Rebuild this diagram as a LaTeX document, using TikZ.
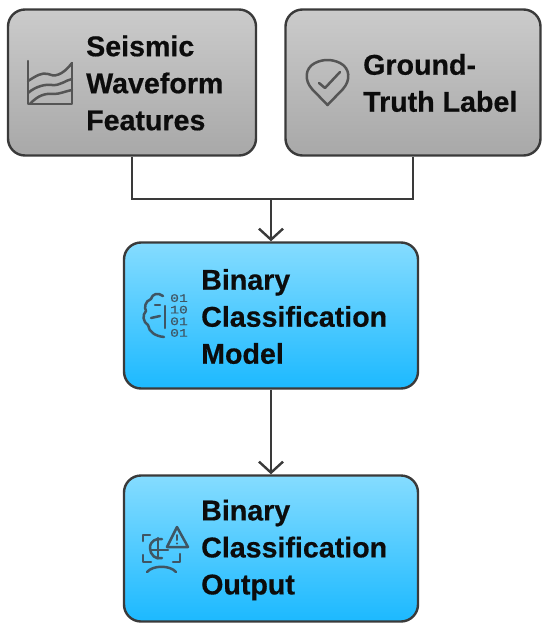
\documentclass[tikz,border=0pt]{standalone}
\usepackage{fontspec}
\setmainfont[BoldFeatures={FakeBold=0.5}]{Liberation Sans}
\newfontfamily\bitfont[FakeStretch=1.3,FakeBold=0.6]{Liberation Mono}
\usetikzlibrary{arrows.meta}
\definecolor{edgegrey}{HTML}{3A3A3A}
\definecolor{icongrey}{HTML}{555555}
\definecolor{icondark}{HTML}{3F5563}
\definecolor{greytop}{HTML}{CBCBCB}
\definecolor{greybot}{HTML}{A8A8A8}
\definecolor{bluetop}{HTML}{85DCFF}
\definecolor{bluebot}{HTML}{1CB9FF}
\definecolor{inktext}{HTML}{0C0C0C}
\tikzset{
  x=1pt,y=-1pt,
  flowbox/.style={draw=edgegrey,line width=2.4pt,rounded corners=17pt,minimum height=146pt,inner sep=0pt},
  greybox/.style={flowbox,top color=greytop,bottom color=greybot,middle color=greytop!50!greybot},
  bluebox/.style={flowbox,top color=bluetop,bottom color=bluebot,middle color=bluetop!50!bluebot},
  boxtext/.style={font=\fontsize{28.6}{37}\selectfont\bfseries,text=inktext,align=left,anchor=west,inner sep=0pt},
  conn/.style={draw=edgegrey,line width=2.4pt},
  arrowconn/.style={conn,-{Straight Barb[length=11pt,width=24pt,line width=2.4pt]}},
  iconline/.style={draw=icongrey,line width=2.5pt,line join=round,line cap=round},
  iconblue/.style={draw=icondark,line width=2.5pt,line join=round,line cap=round},
}
\begin{document}
\begin{tikzpicture}
\useasboundingbox (0,0) rectangle (550,635);
\fill[white] (0,0) rectangle (550,635);
\node[greybox,minimum width=248pt] (seismic) at (132,82.5) {};
\node[greybox,minimum width=255pt] (truth) at (413,82.5) {};
\node[bluebox,minimum width=294pt] (model) at (271,315.5) {};
\node[bluebox,minimum width=294pt] (output) at (271,548.5) {};
\node[boxtext] (seismictext) at (86,83) {Seismic\\Waveform\\Features};
\node[boxtext] (truthtext) at (363,83) {Ground-\\Truth Label};
\node[boxtext] (modeltext) at (201,316.5) {Binary\\Classification\\Model};
\node[boxtext] (outputtext) at (201,550) {Binary\\Classification\\Output};
\coordinate (join) at (271,199);
\draw[conn] (seismic.south) |- (join);
\draw[conn] (truth.south) |- (join);
\draw[arrowconn] (join) -- (model.north);
\draw[arrowconn] (model.south) -- (output.north);
% waveform icon
\draw[iconline] (28,61) -- (28,104) -- (72,104) -- (72,63);
\draw[iconline] (28,81) .. controls (36,76) and (42,72) .. (48,74) .. controls (54,77) and (62,76) .. (72,63);
\draw[iconline] (28,93) .. controls (36,86) and (46,84) .. (52,85) .. controls (60,86) and (66,80) .. (72,79);
\draw[iconline] (30,104) .. controls (38,95) and (46,93) .. (54,94) .. controls (60,94) and (66,91) .. (72,90);
% check pin icon
\draw[iconline] (327.5,105) -- (312,89) .. controls (304,80) and (305,68) .. (315,63) .. controls (323,59) and (332,59) .. (340,63) .. controls (350,68) and (351,80) .. (343,89) -- cycle;
\draw[iconline] (319,83) -- (325,88) -- (340,72);
% brain icon
\draw[iconblue] (163,296) .. controls (158,292) and (152,294) .. (151,299) .. controls (145,301) and (144,308) .. (146,311) .. controls (142,315) and (143,322) .. (148,325) .. controls (149,332) and (155,336) .. (164,337);
\draw[iconblue] (155,305) -- (160,305);
\draw[iconblue] (151,318) -- (160,316);
\draw[iconblue] (165,306) -- (165,328);
\node[font=\fontsize{11.4}{11.6}\selectfont\bitfont,text=icondark,align=center,inner sep=0pt] (bits) at (179,315.5) {01\\10\\01\\01};
% output icon
\draw[iconblue] (150,535) -- (143,535) -- (143,541);
\draw[iconblue] (143,555) -- (143,562) -- (151,562);
\draw[iconblue] (180,554) -- (180,562) -- (173,562);
\draw[iconblue] (150,548) .. controls (150,541) and (156,538) .. (162,539);
\draw[iconblue] (150,548) .. controls (150,555) and (156,560) .. (162,558);
\draw[iconblue] (151,550) -- (168,550);
\draw[iconblue] (158,538) -- (158,558);
\draw[iconblue] (147,572) .. controls (153,565) and (170,565) .. (176,572);
\draw[iconblue] (177,527) -- (188,547) -- (167,547) -- cycle;
\draw[iconblue,line width=2pt] (177,535) -- (177,540);
\fill[icondark] (177,543.5) circle (1.2pt);
\end{tikzpicture}
\end{document}
